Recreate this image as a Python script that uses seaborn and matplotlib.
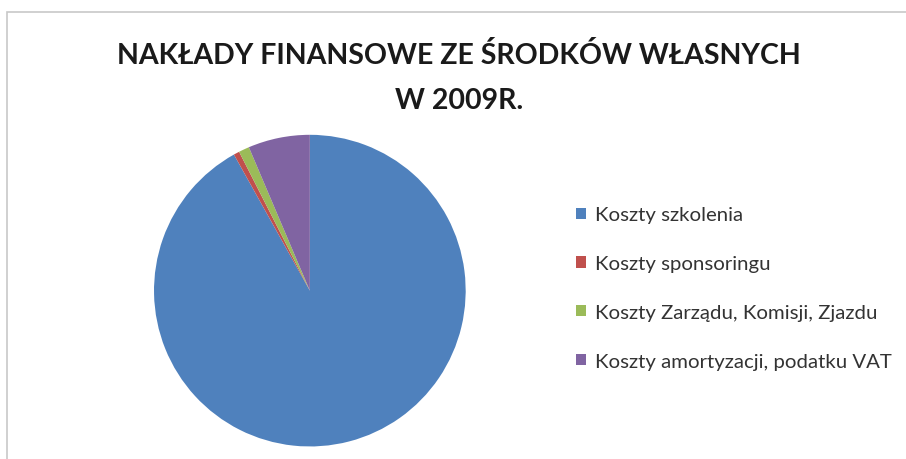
import matplotlib.pyplot as plt
import matplotlib.patches as mpatches
import seaborn as sns

title = "NAKŁADY FINANSOWE ZE ŚRODKÓW WŁASNYCH\nW 2009R."
categories = ["Koszty szkolenia", "Koszty sponsoringu",
              "Koszty Zarządu, Komisji, Zjazdu", "Koszty amortyzacji, podatku VAT"]
shares = [91.9, 0.6, 1.1, 6.4]
colors = ["#4F81BD", "#C0504D", "#9BBB59", "#8064A2"]

sns.set_theme(style="white")
plt.rcParams['font.family'] = ['Lato', 'DejaVu Sans']
palette = sns.color_palette(colors)

fig = plt.figure(figsize=(9.06, 4.6), dpi=100)
fig.patch.set_facecolor("white")

# chart area frame (only top and left edges visible in the crop)
frame = mpatches.Rectangle((6.5 / 906, -0.1), 1.0, 1 - 12.5 / 460 + 0.1,
                           transform=fig.transFigure, fill=False,
                           edgecolor="#c8c8c8", linewidth=1.2)
fig.patches.append(frame)

ax = fig.add_axes([0.170, 0.027, 0.344, 0.678])
wedges, _ = ax.pie(shares, colors=palette, startangle=90, counterclock=False,
                   radius=1.0, wedgeprops=dict(linewidth=0))
ax.set_xlim(-1, 1)
ax.set_ylim(-1, 1)
ax.set_aspect("equal")
ax.axis("off")

fig.text(0.507, 1 - 78 / 460, title, ha="center", va="center",
         fontsize=20.5, fontweight="bold", color="#1a1a1a", linespacing=1.86)

handles = [mpatches.Patch(facecolor=c, edgecolor="none", label=l)
           for c, l in zip(palette, categories)]
fig.legend(handles=handles, loc="upper left",
           bbox_to_anchor=(558 / 906, 1 - 189 / 460), frameon=False,
           fontsize=14.7, labelspacing=1.56, handlelength=0.46,
           handleheight=0.46, handletextpad=0.45, labelcolor="#333333")

fig.savefig("out.png", dpi=100, facecolor="white")
